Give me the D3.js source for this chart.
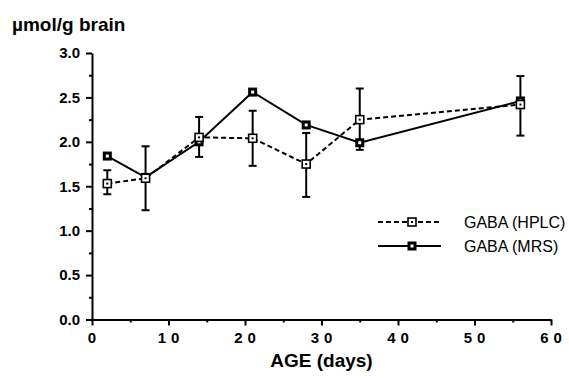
<!DOCTYPE html>
<html>
<head>
<meta charset="utf-8">
<script src="https://cdn.jsdelivr.net/npm/d3@7/dist/d3.min.js"></script>
<style>
    body { margin: 0; background: #fff; }
    text { font-family: "Liberation Sans", Arial, sans-serif; fill: #000; }
</style>
</head>
<body>
<script>
    // age in days
    var days = [2, 7, 14, 21, 28, 35, 56];
    // GABA by HPLC: mean and error bar ends
    var hplc = [1.53, 1.59, 2.05, 2.04, 1.75, 2.25, 2.42];
    var hplcLo = [1.41, 1.23, 1.83, 1.73, 1.38, 1.91, 2.07];
    var hplcHi = [1.68, 1.95, 2.28, 2.35, 2.10, 2.60, 2.74];
    // GABA by MRS
    var mrs = [1.84, 1.60, 2.00, 2.56, 2.19, 1.99, 2.46];

    var xTicks = [0, 10, 20, 30, 40, 50, 60];
    var yTicks = [0, 0.5, 1.0, 1.5, 2.0, 2.5, 3.0];

    var W = 569, H = 378;
    var svg = d3.select("body").append("svg").attr("width", W).attr("height", H);

    var x = d3.scaleLinear().domain([0, 60]).range([92, 551]);
    var y = d3.scaleLinear().domain([0, 3]).range([319.5, 53]);

    // axes, major and minor ticks
    svg.append("g").attr("transform", "translate(0," + y(0) + ")")
        .call(d3.axisBottom(x).tickValues(xTicks).tickSize(6).tickSizeOuter(0).tickFormat(""));
    svg.append("g").attr("transform", "translate(0," + y(0) + ")")
        .call(d3.axisBottom(x).tickValues(d3.range(5, 60, 10)).tickSize(3).tickFormat(""))
        .select(".domain").remove();
    svg.append("g").attr("transform", "translate(" + x(0) + ",0)")
        .call(d3.axisLeft(y).tickValues(yTicks).tickSize(6).tickSizeOuter(0).tickFormat(""));
    svg.append("g").attr("transform", "translate(" + x(0) + ",0)")
        .call(d3.axisLeft(y).tickValues(d3.range(0.25, 3, 0.5)).tickSize(3).tickFormat(""))
        .select(".domain").remove();
    svg.selectAll(".domain, .tick line").attr("stroke", "#000").attr("stroke-width", 2);

    // tick labels
    svg.selectAll(".ylab").data(yTicks).enter().append("text")
        .attr("x", 80).attr("y", function (d) { return y(d); })
        .attr("dy", "0.36em").attr("text-anchor", "end")
        .style("font-size", "15px").style("font-weight", "bold")
        .text(function (d) { return d.toFixed(1); });
    svg.selectAll(".xlab").data(xTicks).enter().append("text")
        .attr("x", function (d) { return x(d) + (d === 0 ? 0 : 2.5); }).attr("y", 343)
        .attr("text-anchor", "middle")
        .style("font-size", "15px").style("font-weight", "bold")
        .style("letter-spacing", function (d) { return d === 0 ? "0px" : "5px"; })
        .text(function (d) { return String(d); });

    svg.append("text").attr("x", x(30)).attr("y", 367).attr("text-anchor", "middle")
        .style("font-size", "19px").style("font-weight", "bold").text("AGE (days)");
    svg.append("text").attr("x", 12).attr("y", 31)
        .style("font-size", "19px").style("font-weight", "bold").text("µmol/g brain");

    // lines
    var line = d3.line().x(function (d) { return x(d[0]); }).y(function (d) { return y(d[1]); });
    svg.append("path").datum(days.map(function (d, i) { return [d, mrs[i]]; }))
        .attr("d", line).attr("fill", "none").attr("stroke", "#000").attr("stroke-width", 2);
    svg.append("path").datum(days.map(function (d, i) { return [d, hplc[i]]; }))
        .attr("d", line).attr("fill", "none").attr("stroke", "#000").attr("stroke-width", 2)
        .attr("stroke-dasharray", "5,3");

    // error bars
    var eb = svg.selectAll(".eb").data(days).enter().append("g");
    eb.append("line").attr("x1", function (d) { return x(d); }).attr("x2", function (d) { return x(d); })
        .attr("y1", function (d, i) { return y(hplcLo[i]); }).attr("y2", function (d, i) { return y(hplcHi[i]); });
    eb.append("line").attr("x1", function (d) { return x(d) - 4; }).attr("x2", function (d) { return x(d) + 4; })
        .attr("y1", function (d, i) { return y(hplcLo[i]); }).attr("y2", function (d, i) { return y(hplcLo[i]); });
    eb.append("line").attr("x1", function (d) { return x(d) - 4; }).attr("x2", function (d) { return x(d) + 4; })
        .attr("y1", function (d, i) { return y(hplcHi[i]); }).attr("y2", function (d, i) { return y(hplcHi[i]); });
    eb.selectAll("line").attr("stroke", "#000").attr("stroke-width", 2);

    // markers
    function mrsMarker(g, cx, cy) {
        g.append("rect").attr("x", cx - 4.5).attr("y", cy - 4.5).attr("width", 9).attr("height", 9)
            .attr("fill", "#000");
        g.append("rect").attr("x", cx - 1.5).attr("y", cy - 1.5).attr("width", 3).attr("height", 3)
            .attr("fill", "#fff");
    }
    function hplcMarker(g, cx, cy) {
        g.append("rect").attr("x", cx - 4).attr("y", cy - 4).attr("width", 8).attr("height", 8)
            .attr("fill", "#fff").attr("stroke", "#000").attr("stroke-width", 1.6);
        g.append("rect").attr("x", cx - 1).attr("y", cy - 1).attr("width", 2).attr("height", 2)
            .attr("fill", "#000");
    }
    days.forEach(function (d, i) { mrsMarker(svg, x(d), y(mrs[i])); });
    days.forEach(function (d, i) { hplcMarker(svg, x(d), y(hplc[i])); });

    // legend
    var legend = [["GABA (HPLC)", "5,3", hplcMarker, 222], ["GABA (MRS)", null, mrsMarker, 246]];
    legend.forEach(function (l) {
        svg.append("line").attr("x1", 378).attr("x2", 441).attr("y1", l[3]).attr("y2", l[3])
            .attr("stroke", "#000").attr("stroke-width", 2).attr("stroke-dasharray", l[1]);
        l[2](svg, 412, l[3]);
        svg.append("text").attr("x", 464).attr("y", l[3]).attr("dy", "0.36em")
            .style("font-size", "16px").text(l[0]);
    });
</script>
</body>
</html>
